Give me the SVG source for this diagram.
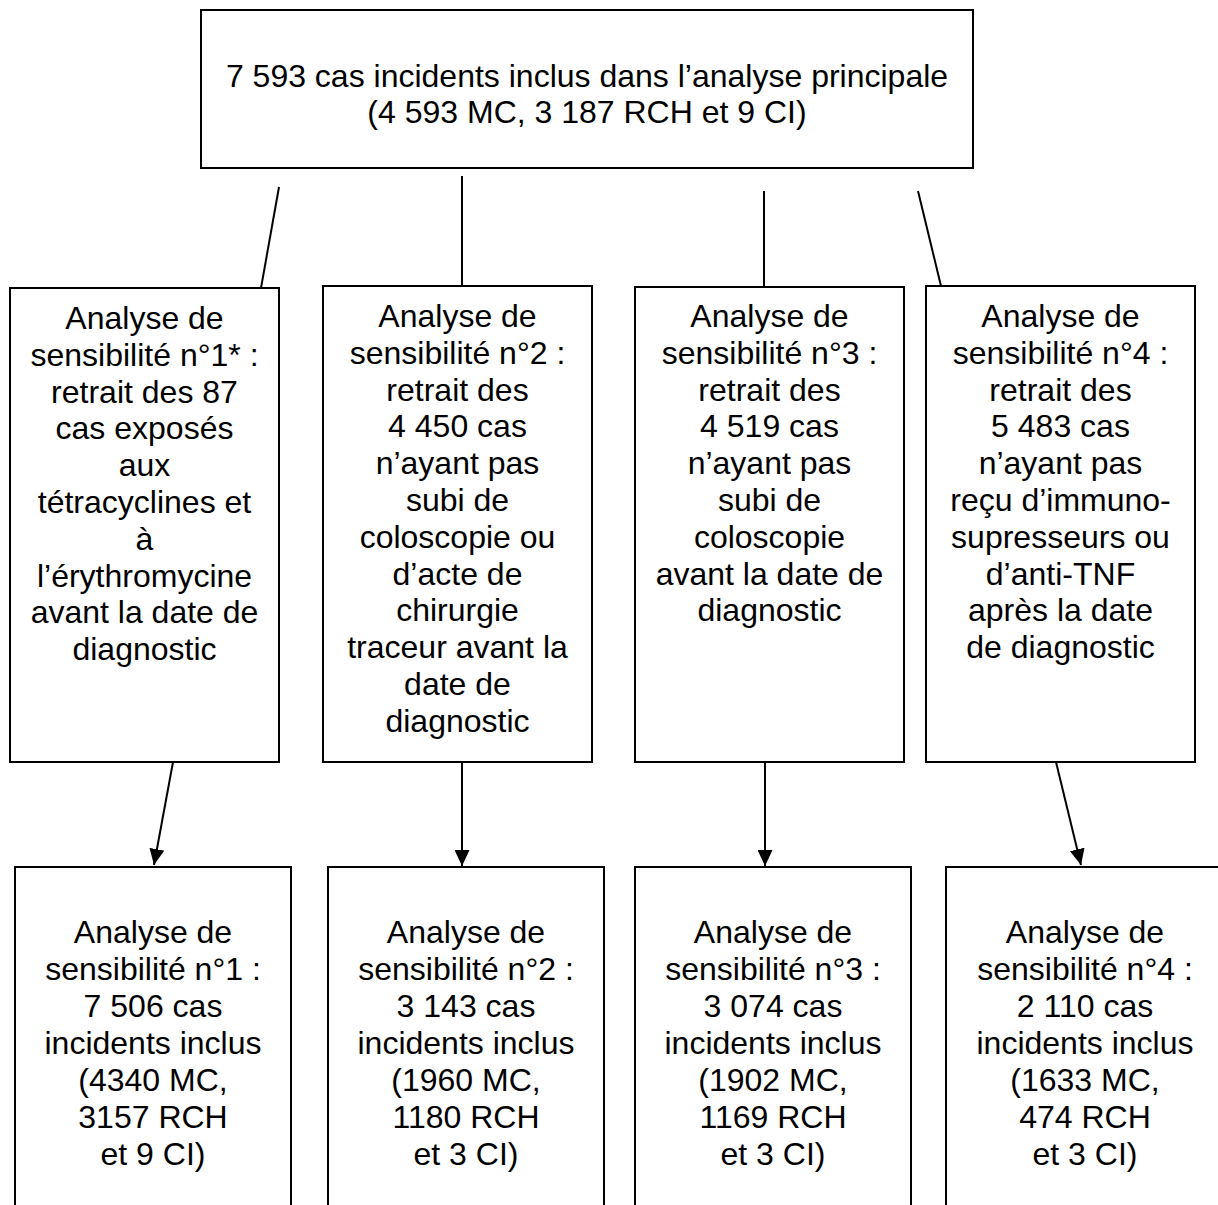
<svg xmlns="http://www.w3.org/2000/svg" width="1218" height="1205" viewBox="0 0 1218 1205">
<style>
.box{fill:#fff;stroke:#000;stroke-width:2}
.t{font-family:"Liberation Sans",Arial,sans-serif;font-size:32px;fill:#000;text-anchor:middle}
.c{stroke:#000;stroke-width:2;fill:none}
.a{marker-end:url(#ah)}
</style>
<defs>
<marker id="ah" markerUnits="userSpaceOnUse" markerWidth="16" markerHeight="15" refX="16" refY="7.5" orient="auto">
<path d="M0,0 L16,7.5 L0,15 Z" fill="#000"/>
</marker>
</defs>
<rect width="1218" height="1205" fill="#fff"/>
<g id="connectors">
<line class="c" x1="279" y1="187" x2="261" y2="288"/>
<line class="c" x1="462" y1="176" x2="462" y2="287"/>
<line class="c" x1="764" y1="191" x2="764" y2="287"/>
<line class="c" x1="918" y1="191" x2="941" y2="286"/>
<line class="c a" x1="173" y1="762" x2="154" y2="865"/>
<line class="c a" x1="462" y1="762" x2="462" y2="866"/>
<line class="c a" x1="765" y1="762" x2="765" y2="866"/>
<line class="c a" x1="1056" y1="762" x2="1081" y2="865"/>
</g>
<g id="top">
<rect class="box" x="201" y="10" width="772" height="158"/>
<text class="t" x="587" y="87">7 593 cas incidents inclus dans l’analyse principale</text>
<text class="t" x="587" y="123">(4 593 MC, 3 187 RCH et 9 CI)</text>
</g>
<g id="s1">
<rect class="box" x="10" y="288" width="269" height="474"/>
<text class="t" x="144.5" y="329">Analyse de<tspan x="144.5" dy="36.8">sensibilité n°1* :</tspan><tspan x="144.5" dy="36.8">retrait des 87</tspan><tspan x="144.5" dy="36.8">cas exposés</tspan><tspan x="144.5" dy="36.8">aux</tspan><tspan x="144.5" dy="36.8">tétracyclines et</tspan><tspan x="144.5" dy="36.8">à</tspan><tspan x="144.5" dy="36.8">l’érythromycine</tspan><tspan x="144.5" dy="36.8">avant la date de</tspan><tspan x="144.5" dy="36.8">diagnostic</tspan></text>
</g>
<g id="s2">
<rect class="box" x="323" y="286" width="269" height="476"/>
<text class="t" x="457.5" y="327">Analyse de<tspan x="457.5" dy="36.8">sensibilité n°2 :</tspan><tspan x="457.5" dy="36.8">retrait des</tspan><tspan x="457.5" dy="36.8">4 450 cas</tspan><tspan x="457.5" dy="36.8">n’ayant pas</tspan><tspan x="457.5" dy="36.8">subi de</tspan><tspan x="457.5" dy="36.8">coloscopie ou</tspan><tspan x="457.5" dy="36.8">d’acte de</tspan><tspan x="457.5" dy="36.8">chirurgie</tspan><tspan x="457.5" dy="36.8">traceur avant la</tspan><tspan x="457.5" dy="36.8">date de</tspan><tspan x="457.5" dy="36.8">diagnostic</tspan></text>
</g>
<g id="s3">
<rect class="box" x="635" y="287" width="269" height="475"/>
<text class="t" x="769.5" y="327">Analyse de<tspan x="769.5" dy="36.8">sensibilité n°3 :</tspan><tspan x="769.5" dy="36.8">retrait des</tspan><tspan x="769.5" dy="36.8">4 519 cas</tspan><tspan x="769.5" dy="36.8">n’ayant pas</tspan><tspan x="769.5" dy="36.8">subi de</tspan><tspan x="769.5" dy="36.8">coloscopie</tspan><tspan x="769.5" dy="36.8">avant la date de</tspan><tspan x="769.5" dy="36.8">diagnostic</tspan></text>
</g>
<g id="s4">
<rect class="box" x="926" y="286" width="269" height="476"/>
<text class="t" x="1060.5" y="327">Analyse de<tspan x="1060.5" dy="36.8">sensibilité n°4 :</tspan><tspan x="1060.5" dy="36.8">retrait des</tspan><tspan x="1060.5" dy="36.8">5 483 cas</tspan><tspan x="1060.5" dy="36.8">n’ayant pas</tspan><tspan x="1060.5" dy="36.8">reçu d’immuno-</tspan><tspan x="1060.5" dy="36.8">supresseurs ou</tspan><tspan x="1060.5" dy="36.8">d’anti-TNF</tspan><tspan x="1060.5" dy="36.8">après la date</tspan><tspan x="1060.5" dy="36.8">de diagnostic</tspan></text>
</g>
<g id="r1">
<rect class="box" x="15" y="867" width="276" height="360"/>
<text class="t" x="153" y="943">Analyse de<tspan x="153" dy="37">sensibilité n°1 :</tspan><tspan x="153" dy="37">7 506 cas</tspan><tspan x="153" dy="37">incidents inclus</tspan><tspan x="153" dy="37">(4340 MC,</tspan><tspan x="153" dy="37">3157 RCH</tspan><tspan x="153" dy="37">et 9 CI)</tspan></text>
</g>
<g id="r2">
<rect class="box" x="328" y="867" width="276" height="360"/>
<text class="t" x="466" y="943">Analyse de<tspan x="466" dy="37">sensibilité n°2 :</tspan><tspan x="466" dy="37">3 143 cas</tspan><tspan x="466" dy="37">incidents inclus</tspan><tspan x="466" dy="37">(1960 MC,</tspan><tspan x="466" dy="37">1180 RCH</tspan><tspan x="466" dy="37">et 3 CI)</tspan></text>
</g>
<g id="r3">
<rect class="box" x="635" y="867" width="276" height="360"/>
<text class="t" x="773" y="943">Analyse de<tspan x="773" dy="37">sensibilité n°3 :</tspan><tspan x="773" dy="37">3 074 cas</tspan><tspan x="773" dy="37">incidents inclus</tspan><tspan x="773" dy="37">(1902 MC,</tspan><tspan x="773" dy="37">1169 RCH</tspan><tspan x="773" dy="37">et 3 CI)</tspan></text>
</g>
<g id="r4">
<rect class="box" x="946" y="867" width="278" height="360"/>
<text class="t" x="1085" y="943">Analyse de<tspan x="1085" dy="37">sensibilité n°4 :</tspan><tspan x="1085" dy="37">2 110 cas</tspan><tspan x="1085" dy="37">incidents inclus</tspan><tspan x="1085" dy="37">(1633 MC,</tspan><tspan x="1085" dy="37">474 RCH</tspan><tspan x="1085" dy="37">et 3 CI)</tspan></text>
</g>
</svg>
